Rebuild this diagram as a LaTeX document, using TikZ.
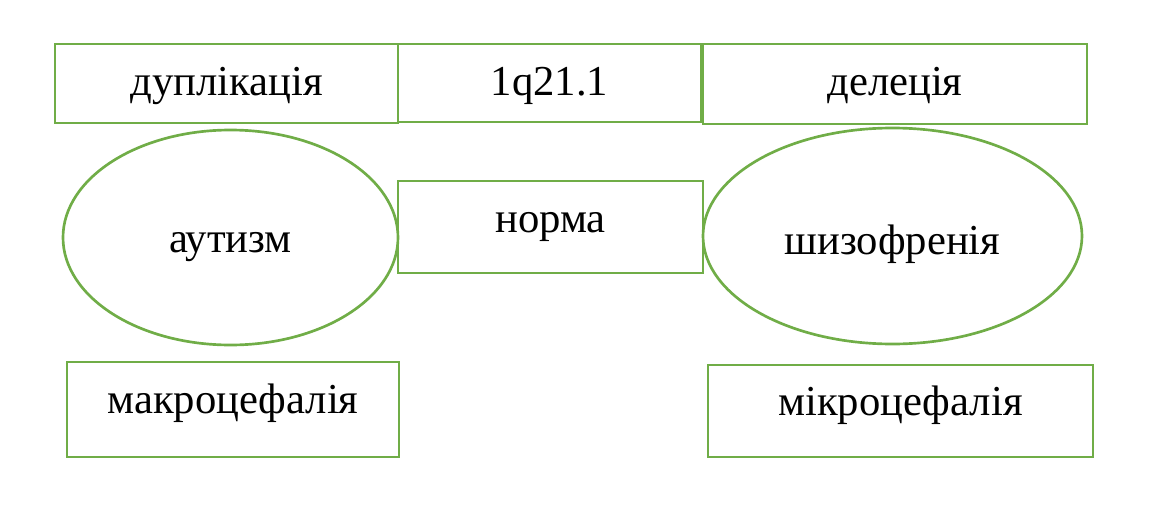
\documentclass[tikz,border=0pt]{standalone}
\usepackage{fontspec}
\setmainfont{Liberation Serif}
\usetikzlibrary{shapes.geometric}
\definecolor{ogreen}{RGB}{112,173,71}
\begin{document}
\begin{tikzpicture}[x=0.75pt,y=-0.75pt,
  shp/.style={draw=ogreen,line width=2pt},
  lbl/.style={anchor=base,inner sep=0pt,font=\fontsize{32}{38}\selectfont}]
\useasboundingbox (0,0) rectangle (1158,507);
\draw[shp] (55,44) rectangle (398,123);
\node[lbl] (t1) at (226.5,95) {дуплікація};
\draw[shp] (398,44) rectangle (701,122);
\node[lbl] (t2) at (549.5,95) {1q21.1};
\draw[shp] (703,44) rectangle (1087,124);
\node[lbl] (t3) at (895,95) {делеція};
\draw[shp] (230.5,237.5) ellipse [x radius=167.5, y radius=107.5];
\node[lbl] (t4) at (230.5,252) {аутизм};
\draw[shp] (398,181) rectangle (703,273);
\node[lbl] (t5) at (550.5,232) {норма};
\draw[shp] (892.5,236) ellipse [x radius=189.5, y radius=108];
\node[lbl] (t6) at (892.5,254) {шизофренія};
\draw[shp] (67,362) rectangle (399,457);
\node[lbl] (t7) at (233,413) {макроцефалія};
\draw[shp] (708,365) rectangle (1093,457);
\node[lbl] (t8) at (900.5,415) {мікроцефалія};
\end{tikzpicture}
\end{document}
